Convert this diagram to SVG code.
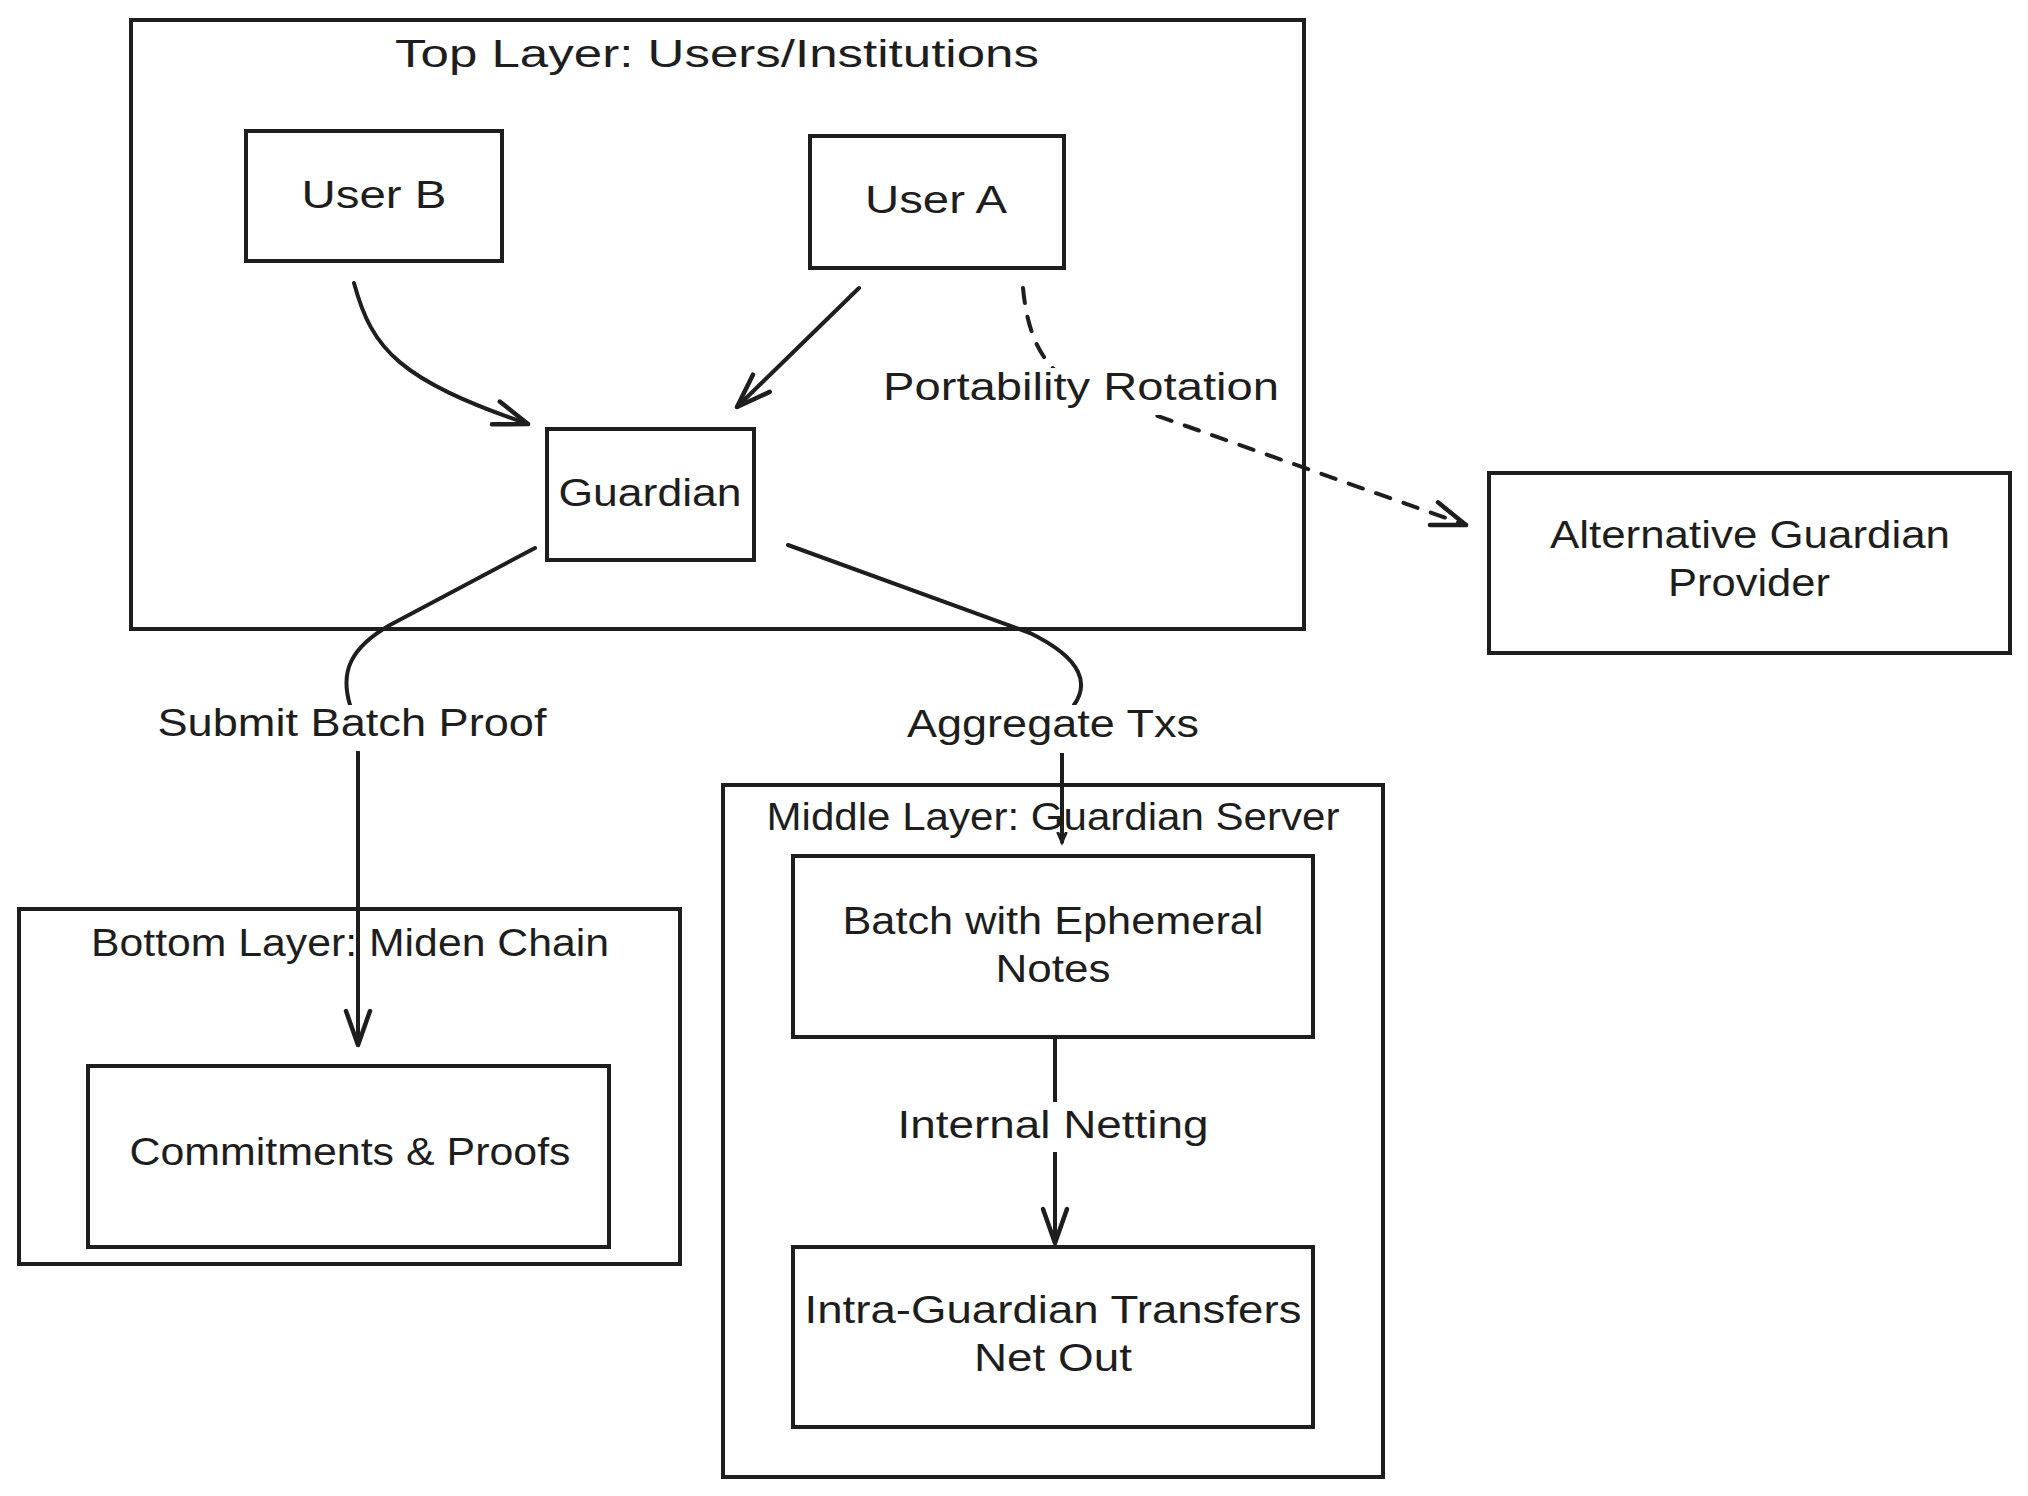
<svg xmlns="http://www.w3.org/2000/svg" width="2028" height="1496" viewBox="0 0 2028 1496">
<style>
.box{fill:#fff;stroke:#1e1e1e;stroke-width:4}
.cont{fill:none;stroke:#1e1e1e;stroke-width:4}
.t{font-family:"Liberation Sans","DejaVu Sans",sans-serif;font-size:38px;fill:#1e1e1e;text-anchor:middle}
.edge{fill:none;stroke:#1e1e1e;stroke-width:4;stroke-linecap:round;stroke-linejoin:round}
.dash{stroke-dasharray:15 14}
.lbg{fill:#fff}
</style>
<defs>
<marker id="ah" markerUnits="userSpaceOnUse" markerWidth="50" markerHeight="40" viewBox="-40 -20 50 40" refX="0" refY="0" orient="auto">
<path d="M-34,-12 L0,0 L-34,12" fill="none" stroke="#1e1e1e" stroke-width="4.5" stroke-linecap="round" stroke-linejoin="round"/>
</marker>
<marker id="ahs" markerUnits="userSpaceOnUse" markerWidth="20" markerHeight="20" viewBox="-10 -10 20 20" refX="0" refY="0" orient="auto">
<path d="M-9,-4 L0,0 L-9,4" fill="none" stroke="#1e1e1e" stroke-width="3" stroke-linecap="round"/>
</marker>
</defs>
<rect width="2028" height="1496" fill="#fff"/>

<g id="top-layer">
<rect class="cont" x="131" y="20" width="1173" height="609"/>
<text class="t" x="717" y="67" textLength="644" lengthAdjust="spacingAndGlyphs">Top Layer: Users/Institutions</text>
</g>
<g id="middle-layer">
<rect class="cont" x="723" y="785" width="660" height="692"/>
<text class="t" x="1053" y="830" textLength="573" lengthAdjust="spacingAndGlyphs">Middle Layer: Guardian Server</text>
</g>
<g id="bottom-layer">
<rect class="cont" x="19" y="909" width="661" height="355"/>
<text class="t" x="350" y="956" textLength="518" lengthAdjust="spacingAndGlyphs">Bottom Layer: Miden Chain</text>
</g>

<g id="user-b">
<rect class="box" x="246" y="131" width="256" height="130"/>
<text class="t" x="374" y="208" textLength="145" lengthAdjust="spacingAndGlyphs">User B</text>
</g>
<g id="user-a">
<rect class="box" x="810" y="136" width="254" height="132"/>
<text class="t" x="936" y="213" textLength="142" lengthAdjust="spacingAndGlyphs">User A</text>
</g>
<g id="guardian">
<rect class="box" x="547" y="429" width="207" height="131"/>
<text class="t" x="650" y="506" textLength="183" lengthAdjust="spacingAndGlyphs">Guardian</text>
</g>
<g id="alt-guardian">
<rect class="box" x="1489" y="473" width="521" height="180"/>
<text class="t" x="1750" y="548" textLength="400" lengthAdjust="spacingAndGlyphs">Alternative Guardian</text>
<text class="t" x="1749" y="596" textLength="162" lengthAdjust="spacingAndGlyphs">Provider</text>
</g>
<g id="batch">
<rect class="box" x="793" y="856" width="520" height="181"/>
<text class="t" x="1053" y="934" textLength="421" lengthAdjust="spacingAndGlyphs">Batch with Ephemeral</text>
<text class="t" x="1053" y="982" textLength="115" lengthAdjust="spacingAndGlyphs">Notes</text>
</g>
<g id="intra">
<rect class="box" x="793" y="1247" width="520" height="180"/>
<text class="t" x="1053" y="1323" textLength="497" lengthAdjust="spacingAndGlyphs">Intra-Guardian Transfers</text>
<text class="t" x="1053" y="1371" textLength="158" lengthAdjust="spacingAndGlyphs">Net Out</text>
</g>
<g id="commitments">
<rect class="box" x="88" y="1066" width="521" height="181"/>
<text class="t" x="350" y="1165" textLength="441" lengthAdjust="spacingAndGlyphs">Commitments &amp; Proofs</text>
</g>

<g id="connectors">
<path class="edge" d="M354,283 C372,350 400,380 528,424" marker-end="url(#ah)"/>
<path class="edge" d="M859,288 L737,407" marker-end="url(#ah)"/>
<path class="edge dash" d="M1023,288 C1028,340 1045,375 1090,392 L1466,525" marker-end="url(#ah)"/>
<path class="edge" d="M535,548 L390,625 C350,648 340,672 350,705 L358,752 L358,1045" marker-end="url(#ah)"/>
<path class="edge" d="M788,545 L1030,633 C1085,660 1088,685 1074,705 L1062,752 L1062,842" marker-end="url(#ahs)"/>
<path class="edge" d="M1055,1037 L1055,1243" marker-end="url(#ah)"/>

<rect class="lbg" x="875" y="368" width="410" height="47"/>
<text class="t" x="1081" y="400" textLength="396" lengthAdjust="spacingAndGlyphs">Portability Rotation</text>
<rect class="lbg" x="150" y="705" width="405" height="46"/>
<text class="t" x="352" y="736" textLength="389" lengthAdjust="spacingAndGlyphs">Submit Batch Proof</text>
<rect class="lbg" x="900" y="705" width="307" height="48"/>
<text class="t" x="1053" y="737" textLength="292" lengthAdjust="spacingAndGlyphs">Aggregate Txs</text>
<rect class="lbg" x="890" y="1102" width="325" height="50"/>
<text class="t" x="1053" y="1138" textLength="311" lengthAdjust="spacingAndGlyphs">Internal Netting</text>
</g>
</svg>
